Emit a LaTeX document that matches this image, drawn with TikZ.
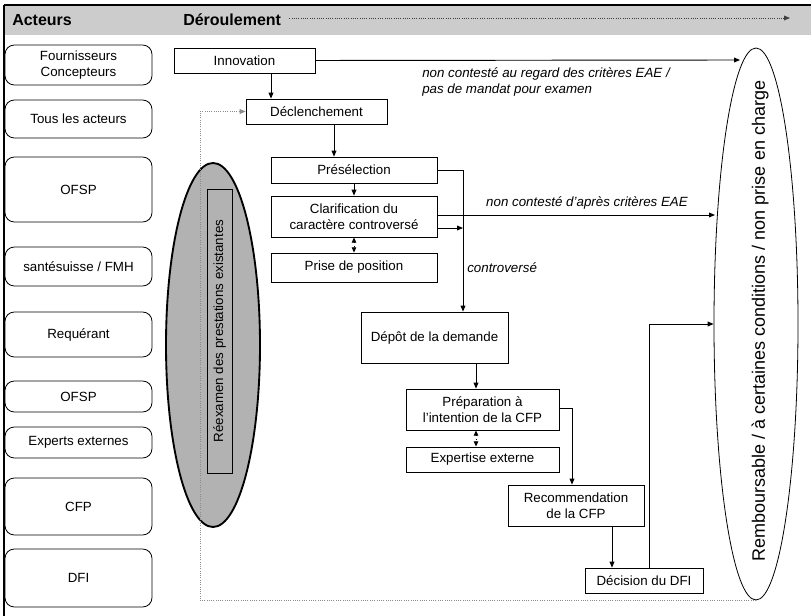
\documentclass[tikz,border=0pt]{standalone}
\usepackage{fontspec}
\setmainfont{Liberation Sans}
\usetikzlibrary{arrows.meta,shapes.geometric,calc}
\begin{document}
\begin{tikzpicture}[x=0.75pt,y=-0.75pt,
  sz/.style 2 args={minimum width=#1*0.75pt,minimum height=#2*0.75pt},
  actor/.style={draw,rounded corners=7pt,inner sep=0pt,align=center,font=\fontsize{10}{12}\selectfont,line width=0.6pt},
  box/.style={draw,inner sep=0pt,align=center,font=\fontsize{10}{12}\selectfont,line width=0.6pt},
  arr/.style={line width=0.7pt,-{Triangle[length=4.5pt,width=3.6pt]}},
  darr/.style={dotted,line width=0.7pt,{Triangle[length=4pt,width=3.4pt]}-{Triangle[length=4pt,width=3.4pt]}},
  ln/.style={line width=0.7pt},
  dotl/.style={densely dotted,black!45,line width=0.7pt},
  lab/.style={font=\fontsize{10}{12}\selectfont\itshape,inner sep=0pt,align=left},
  hdr/.style={font=\bfseries\fontsize{12}{14}\selectfont,inner sep=0pt,anchor=west},
]
\useasboundingbox (0,0) rectangle (811,616);
% header
\fill[black!20] (4,5) rectangle (811,35);
\draw[line width=0.8pt] (4,5) -- (811,5);
\draw[line width=0.8pt] (4,5) -- (4,616);
\node[hdr] (hact) at (12,20) {Acteurs};
\node[hdr] (hder) at (183,20) {Déroulement};
\coordinate (hend) at (790,18);
\draw[densely dotted,black!75,line width=0.7pt,-{Triangle[length=4.5pt,width=3.6pt]}] ($(hder.east)+(8,-2)$) -- (hend);

% actors
\node[actor,sz={147}{40}] (a1) at (78.5,65) {Fournisseurs\\Concepteurs};
\node[actor,sz={147}{38}] (a2) at (78.5,119) {Tous les acteurs};
\node[actor,sz={147}{65}] (a3) at (78.5,189.5) {OFSP};
\node[actor,sz={147}{39}] (a4) at (78.5,266.5) {santésuisse / FMH};
\node[actor,sz={147}{45}] (a5) at (78.5,334.5) {Requérant};
\node[actor,sz={147}{31}] (a6) at (78.5,396.5) {OFSP};
\node[actor,sz={147}{31}] (a7) at (78.5,442.5) {Experts externes};
\node[actor,sz={147}{57}] (a8) at (78.5,506.5) {CFP};
\node[actor,sz={147}{58}] (a9) at (78.5,578) {DFI};

% right ellipse
\node[draw,ellipse,line width=0.6pt,sz={84}{552},inner sep=0pt] (rem) at (756,324) {};
\node[rotate=90,font=\fontsize{13.5}{15}\selectfont,inner sep=0pt] (remt) at (760,321) {Remboursable / à certaines conditions / non prise en charge};

% grey ellipse
\node[draw,ellipse,fill=black!30,line width=1.4pt,sz={94}{364},inner sep=0pt] (reel) at (213,345) {};
\node[draw,line width=0.6pt,sz={284}{25},rotate=90,inner sep=0pt,font=\fontsize{10}{12}\selectfont] (reex) at (219.5,331) {Réexamen des prestations existantes};

% flow boxes
\node[box,sz={141}{25}] (innov) at (244.5,60.5) {Innovation};
\node[box,sz={141}{25}] (decl) at (316.5,111.5) {Déclenchement};
\node[box,sz={166}{26}] (presel) at (354,170) {Présélection};
\node[box,sz={166}{41}] (clar) at (354,216.5) {Clarification du\\caractère controversé};
\node[box,sz={166}{29}] (prise) at (354,267.5) {Prise de position};
\node[box,sz={147}{51}] (depot) at (434.5,337.5) {Dépôt de la demande};
\node[box,sz={153}{41}] (prep) at (482.5,409.5) {Préparation à\\l'intention de la CFP};
\node[box,sz={153}{25}] (expert) at (482.5,459.5) {Expertise externe};
\node[box,sz={136}{41}] (recom) at (576,505.5) {Recommendation\\de la CFP};
\node[box,sz={118}{25}] (deci) at (644,580.5) {Décision du DFI};

% helper coordinates
\coordinate (x1) at (271,0);
\coordinate (x2) at (334,0);
\coordinate (x3) at (463,0);
\coordinate (x4) at (476,0);
\coordinate (x5) at (572,0);
\coordinate (x6) at (612,0);
\coordinate (x7) at (649,0);
\coordinate (x8) at (200,0);
\coordinate (e1) at (740,60);
\coordinate (e2) at (715,215);
\coordinate (y1) at (0,215);
\coordinate (y2) at (0,228);
\coordinate (y3) at (0,324);

% connectors
\draw[arr] (innov.south -| x1) -- (decl.north -| x1);
\draw[arr] (innov.east) -- (e1);
\draw[arr] (decl.south -| x2) -- (presel.north -| x2);
\draw[arr] (presel.south) -- (clar.north);
\draw[darr] (clar.south) -- (prise.north);
\draw[arr] (presel.east) -- (presel.east -| x3) -- (depot.north -| x3);
\draw[arr] (clar.east |- y1) -- (e2);
\draw[arr] (clar.east |- y2) -- (x3 |- y2);
\draw[arr] (depot.south -| x4) -- (prep.north -| x4);
\draw[darr] (prep.south -| x4) -- (expert.north -| x4);
\draw[arr] (prep.east |- 0,408) -- (x5 |- 0,408) -- (recom.north -| x5);
\draw[arr] (recom.south -| x6) -- (deci.north -| x6);
\draw[arr] (deci.north -| x7) -- (x7 |- y3) -- (rem.west);
\draw[dotl,-{Triangle[length=4.5pt,width=3.6pt]}] (rem.south) -- (rem.south -| x8) -- (x8 |- decl.west) -- (decl.west);

% labels
\node[lab,anchor=north west] (l1) at (422,67) {non contesté au regard des critères EAE /\\pas de mandat pour examen};
\node[lab] (l2) at (587,203) {non contesté d'après critères EAE};
\node[lab,anchor=west] (l3) at (467,268) {controversé};
\end{tikzpicture}
\end{document}
